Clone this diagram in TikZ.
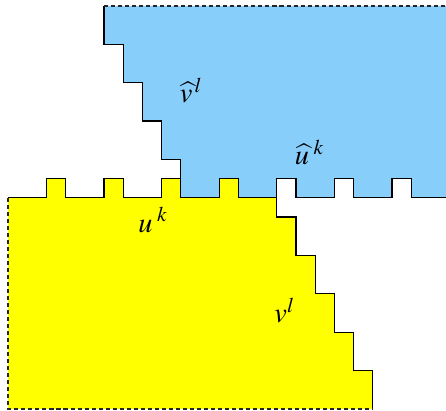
\documentclass[tikz,border=0pt]{standalone}
\usepackage{mathptmx}
\definecolor{sky}{RGB}{135,206,250}
\definecolor{lemon}{RGB}{255,255,0}
\tikzset{
  lowerpiece/.style={fill=lemon},
  upperpiece/.style={fill=sky},
  cutedge/.style={draw=black!85, line width=1.2pt, dash pattern=on 3pt off 2.2pt},
  piecelabel/.style={font=\fontsize{21}{24}\selectfont, inner sep=0pt},
}

\begin{document}
\begin{tikzpicture}[line width=0.9pt, line join=miter, x=5mm, y=5mm]
  \useasboundingbox (-0.417,-11.07) rectangle (22.81,10.3);
  % Lower piece: teeth on top, stairs on the right.
  \fill[lowerpiece] (0,-11) -- (0,0)
    \foreach \t in {2,5,8,11} {-- (\t,0) -- (\t,1) -- (\t+1,1) -- (\t+1,0)} -- (14,0)
    \foreach \s in {0,...,4} {-- (14+\s,-2*\s-1) -- (15+\s,-2*\s-1)} -- (19,-11) -- cycle;
  % Upper piece: stairs on the left, notches below.
  \fill[upperpiece] (5,10)
    \foreach \s in {0,...,3} {-- (5+\s,8-2*\s) -- (6+\s,8-2*\s)} -- (9,0)
    \foreach \t in {11,14,17,20} {-- (\t,0) -- (\t,1) -- (\t+1,1) -- (\t+1,0)} -- (22.81,0)
    -- (22.81,10) -- cycle;
  % Solid outlines.
  \draw (0,0)
    \foreach \t in {2,5,8,11} {-- (\t,0) -- (\t,1) -- (\t+1,1) -- (\t+1,0)} -- (14,0)
    \foreach \s in {0,...,4} {-- (14+\s,-2*\s-1) -- (15+\s,-2*\s-1)} -- (19,-11);
  \draw (5,10)
    \foreach \s in {0,...,3} {-- (5+\s,8-2*\s) -- (6+\s,8-2*\s)} -- (9,0)
    \foreach \t in {11,14,17,20} {-- (\t,0) -- (\t,1) -- (\t+1,1) -- (\t+1,0)} -- (22.81,0);
  % Cut edges.
  \draw[cutedge] (0,0) -- (0,-11) -- (19,-11);
  \draw[cutedge] (5,10) -- (22.81,10);
  % Labels.
  \node[piecelabel] (vhat) at (9.53,5.6) {$\widehat{v}^{\,l}$};
  \node[piecelabel] (uhat) at (15.7,2.37) {$\widehat{u}^{\;k}$};
  \node[piecelabel] (uk) at (7.55,-1.16) {$u^{\;k}$};
  \node[piecelabel] (vl) at (14.4,-5.86) {$v^{l}$};
\end{tikzpicture}
\end{document}
